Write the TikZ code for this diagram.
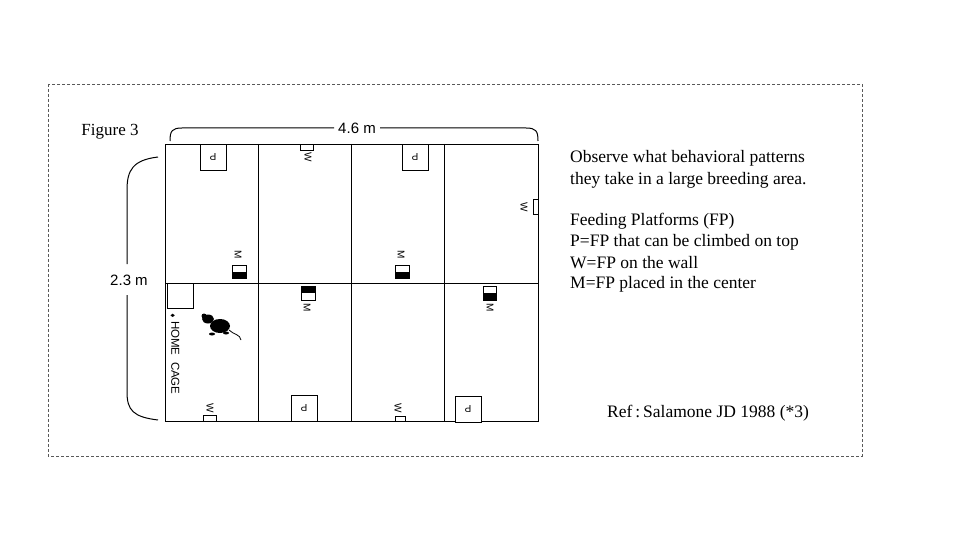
\documentclass[tikz,border=0pt]{standalone}
\usepackage{amssymb}
\usepackage{fontspec}
\setmainfont{Liberation Serif}
\newfontfamily\sansf{Liberation Sans}
\begin{document}
\begin{tikzpicture}[x=1pt,y=-1pt,
  wall/.style={draw=black,line width=0.9pt},
  fp/.style={draw=black,fill=white,line width=0.7pt},
  lab/.style={font=\sansf\fontsize{10}{11}\selectfont},
  txt/.style={font=\fontsize{17.5}{20}\selectfont,anchor=west,inner sep=0pt},
  brk/.style={draw=black,line width=1pt}]
\useasboundingbox (0,0) rectangle (960,540);
\draw[dash pattern=on 3pt off 2pt,gray!70!black,line width=0.6pt] (48,84) rectangle (862,456);
% grid
\draw[wall] (165,144) rectangle (538,421);
\draw[wall] (165,283) -- (538,283);
\foreach \x in {258,351,444} \draw[wall] (\x,144) -- (\x,421);
% P platforms
\foreach \a/\b in {200/144,402/144,291/395,455/396}{
  \draw[fp] (\a,\b) rectangle ++(26,26);
  \node[lab,rotate=180] at (\a+13,\b+13) {P};}
% W platforms
\draw[fp] (300,144) rectangle (313,150); \node[lab,rotate=-90] at (308,157) {W};
\draw[fp] (533,199) rectangle (538,214); \node[lab,rotate=-90] at (524,207) {W};
\draw[fp] (203,415) rectangle (216,421); \node[lab,rotate=-90] at (210,408) {W};
\draw[fp] (395,416) rectangle (405,421); \node[lab,rotate=-90] at (398,408) {W};
% M platforms
\foreach \a/\b in {232/265,395/265}{
  \draw[fp] (\a,\b) rectangle ++(14,13); \fill (\a,\b+6.5) rectangle ++(14,6.5);
  \node[lab,rotate=-90] at (\a+6,\b-10) {M};}
\draw[fp] (301,286) rectangle ++(14,14); \fill (301,286) rectangle ++(14,7);
\node[lab,rotate=-90] at (307,308) {M};
\draw[fp] (483,286) rectangle ++(13,14); \fill (483,293) rectangle ++(13,7);
\node[lab,rotate=-90] at (490,308) {M};
% home cage
\draw[fp] (167,283) rectangle (193,308);
\node[rotate=-90,anchor=west,inner sep=0pt,font=\sansf\fontsize{11.5}{12}\selectfont] (hc) at (175,313) {{\tiny$\blacklozenge$} HOME\ \ CAGE};
% mouse
\fill (220,326) ellipse (10 and 7);
\fill (208,319) ellipse (6 and 4.5);
\fill (204,316) circle (2.5);
\fill (212,334) ellipse (3 and 1.5);
\fill (226,333) ellipse (3 and 1.5);
\draw[line width=0.8pt] (229,330) .. controls (234,335) and (240,334) .. (241,340);
% brackets
\draw[brk] (170,141) .. controls (170,131) and (172,128) .. (182,128) -- (334,128);
\node[font=\sansf\fontsize{15}{17}\selectfont] (w) at (357,128) {4.6 m};
\draw[brk] (380,128) -- (526,128) .. controls (536,128) and (538,131) .. (538,141);
\draw[brk] (158,157) .. controls (133,160) and (127,170) .. (127,190) -- (127,264);
\node[font=\sansf\fontsize{15}{17}\selectfont] (h) at (129,280) {2.3 m};
\draw[brk] (127,295) -- (127,392) .. controls (127,410) and (133,417) .. (158,420);
% texts
\node[font=\fontsize{17}{19}\selectfont] (fig) at (110,132) {Figure 3};
\node[txt] (t1) at (570,158) {Observe what behavioral patterns};
\node[txt] (t2) at (570,180) {they take in a large breeding area.};
\node[txt] (t3) at (570,221) {Feeding Platforms (FP)};
\node[txt] (t4) at (570,242) {P=FP that can be climbed on top};
\node[txt] (t5) at (570,263) {W=FP on the wall};
\node[txt] (t6) at (570,284) {M=FP placed in the center};
\node[txt] (ref) at (607,413) {Ref\,:\,Salamone JD 1988 (*3)};
\end{tikzpicture}
\end{document}
